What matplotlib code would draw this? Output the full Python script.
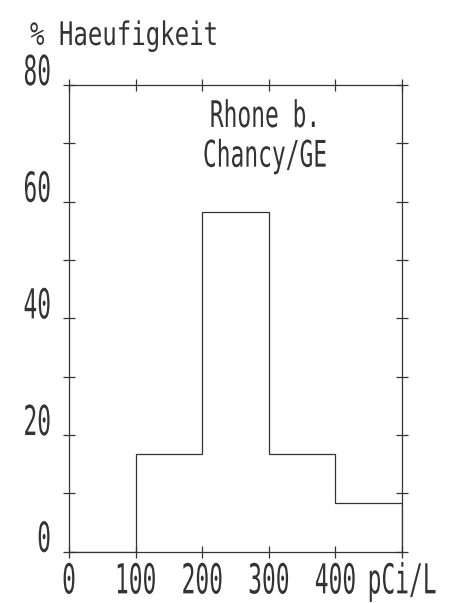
import numpy as np
import matplotlib
matplotlib.use("Agg")
import matplotlib.pyplot as plt
from matplotlib.patheffects import AbstractPathEffect
from matplotlib.transforms import Affine2D

# ---- data ----
bin_edges = [0, 100, 200, 300, 400, 500]
percent = [0, 16.7, 58.3, 16.7, 8.3]
x_ticks = [0, 100, 200, 300, 400, 500]
x_tick_labels = ["0", "100", "200", "300", "400", "pCi/L"]
y_ticks = [0, 20, 40, 60, 80]
y_tick_labels = ["0", "20", "40", "60", "80"]
y_minor = [10, 30, 50, 70]
title_text = "% Haeufigkeit"
station_lines = ["Rhone b.", "Chancy/GE"]


class StretchY(AbstractPathEffect):
    """Stretch glyphs vertically about their baseline (plotter-style tall text)."""
    def __init__(self, sy):
        super().__init__()
        self.sy = sy

    def draw_path(self, renderer, gc, tpath, affine, rgbFace=None):
        m = affine.get_matrix()
        tx, ty = m[0, 2], m[1, 2]
        extra = Affine2D().translate(-tx, -ty).scale(1.0, self.sy).translate(tx, ty)
        renderer.draw_path(gc, tpath, affine + extra, rgbFace)


INK = "#333333"
FONT = "DejaVu Sans Mono"
FS = 16.5

fig = plt.figure(figsize=(4.59, 6.03), dpi=100)
ax = fig.add_axes([69 / 459, (603 - 551.7) / 603, (402 - 69) / 459, (551.7 - 85) / 603])

ax.stairs(percent, bin_edges, baseline=0, color=INK, linewidth=0.9)

ax.set_xlim(0, 500)
ax.set_ylim(0, 80)
for s in ax.spines.values():
    s.set_color(INK)
    s.set_linewidth(0.9)

ax.set_xticks(x_ticks)
ax.set_xticklabels(x_tick_labels)
ax.set_yticks(y_ticks)
ax.set_yticklabels(y_tick_labels)
ax.set_yticks(y_minor, minor=True)

ax.tick_params(axis="x", which="both", direction="inout", length=8, width=0.9,
               color=INK, top=True, bottom=True, pad=26, labelcolor=INK)
ax.tick_params(axis="y", which="both", direction="inout", length=8, width=0.9,
               color=INK, left=True, right=True, pad=9, labelcolor=INK)

for lbl in ax.get_xticklabels():
    lbl.set_fontfamily(FONT)
    lbl.set_fontsize(FS)
    lbl.set_va("baseline")
    lbl.set_path_effects([StretchY(1.8)])
for lbl in ax.get_yticklabels():
    lbl.set_fontfamily(FONT)
    lbl.set_fontsize(FS)
    lbl.set_va("baseline")
    lbl.set_path_effects([StretchY(1.8)])

# y-axis title at top-left
fig.text(30 / 459, 1 - 45 / 603, title_text, fontfamily=FONT, fontsize=17.3,
         color=INK, ha="left", va="baseline", path_effects=[StretchY(1.35)])

# station name inside the plot
ax.text(294, 72.8, station_lines[0], fontfamily=FONT, fontsize=16.5, color=INK,
        ha="center", va="baseline", path_effects=[StretchY(1.6)])
ax.text(294, 66.0, station_lines[1], fontfamily=FONT, fontsize=16.5, color=INK,
        ha="center", va="baseline", path_effects=[StretchY(1.6)])

fig.savefig("out.png", dpi=100, facecolor="white")
